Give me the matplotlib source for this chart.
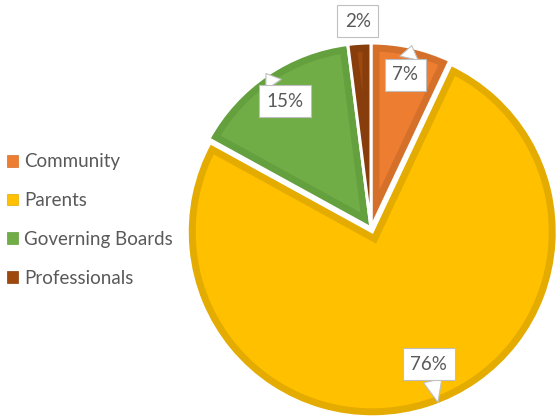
import numpy as np
import matplotlib
matplotlib.use("Agg")
import matplotlib.pyplot as plt
from matplotlib.patches import Patch, Polygon

categories = ["Community", "Parents", "Governing Boards", "Professionals"]
values = [7, 76, 15, 2]
face_colors = ["#ED7D31", "#FFC000", "#70AD47", "#9E480E"]
edge_colors = ["#D5702B", "#E4AB00", "#64A03E", "#873D0C"]
label_r = [0.85, 0.80, 0.83, 1.12]
label_dang = [0, -5, 0, 0]

W, H = 557, 419
fig = plt.figure(figsize=(W / 100, H / 100), dpi=100)
ax = fig.add_axes([0, 0, 1, 1])

cx, cy, R = 371, H - 228, 185
explode = [0, 4, 0, 0]   # in pixels (data units)
border = 8.5

wedges, _ = ax.pie(values, colors=edge_colors, startangle=90, counterclock=False,
                   center=(cx, cy), radius=R, explode=explode,
                   wedgeprops=dict(linewidth=2.2, edgecolor="white"))

# inner (lighter) part of each slice, inset by `border`
for w, fc in zip(wedges, face_colors):
    t1, t2 = w.theta1, w.theta2
    (x0, y0), r = w.center, w.r
    span = np.deg2rad(t2 - t1)
    bis = np.deg2rad((t1 + t2) / 2)
    s = border / np.sin(span / 2)
    px, py = x0 + s * np.cos(bis), y0 + s * np.sin(bis)
    alpha = np.arcsin(border / (r - border))
    a = np.linspace(np.deg2rad(t1) + alpha, np.deg2rad(t2) - alpha, 200)
    pts = [(px, py)] + list(zip(x0 + (r - border) * np.cos(a), y0 + (r - border) * np.sin(a)))
    ax.add_patch(Polygon(pts, closed=True, facecolor=fc, edgecolor="none", zorder=2))

ax.set_xlim(0, W)
ax.set_ylim(0, H)
ax.set_aspect("equal")
ax.axis("off")

txt_color = "#595959"
total = sum(values)
cum = 0
for v, lr, dang in zip(values, label_r, label_dang):
    mid = (cum + v / 2) / total * 360
    cum += v
    th = np.deg2rad(90 - mid - dang)
    lx, ly = cx + lr * R * np.cos(th), cy + lr * R * np.sin(th)
    th2 = np.deg2rad(90 - mid - dang * 0.6)
    tx, ty = cx + 1.01 * R * np.cos(th2), cy + 1.01 * R * np.sin(th2)
    label = f"{v}%"
    if lr < 1:
        ax.annotate(label, xy=(tx, ty), xytext=(lx, ly), ha="center", va="center",
                    fontsize=13.5, color=txt_color, family="Lato",
                    bbox=dict(boxstyle="square,pad=0.4", fc="white", ec="#BFBFBF", lw=0.8),
                    arrowprops=dict(arrowstyle="wedge,tail_width=1.0,shrink_factor=0.5",
                                    fc="white", ec="#BFBFBF", lw=0.8, shrinkA=0, shrinkB=0),
                    zorder=5)
    else:
        ax.text(lx, ly, label, ha="center", va="center", fontsize=13.5, color=txt_color,
                family="Lato", zorder=5,
                bbox=dict(boxstyle="square,pad=0.4", fc="white", ec="#BFBFBF", lw=0.8))

handles = [Patch(facecolor=fc, edgecolor=ec, lw=0.5) for fc, ec in zip(face_colors, edge_colors)]
leg = ax.legend(handles, categories, loc="center left", bbox_to_anchor=(1 / W, 1 - 220 / H),
                frameon=False, labelspacing=1.16, handlelength=0.6,
                handleheight=0.6, handletextpad=0.35, borderaxespad=0, borderpad=0.3,
                prop=dict(family="Lato", size=13.5))
for t in leg.get_texts():
    t.set_color(txt_color)

fig.savefig("out.png", dpi=100)
